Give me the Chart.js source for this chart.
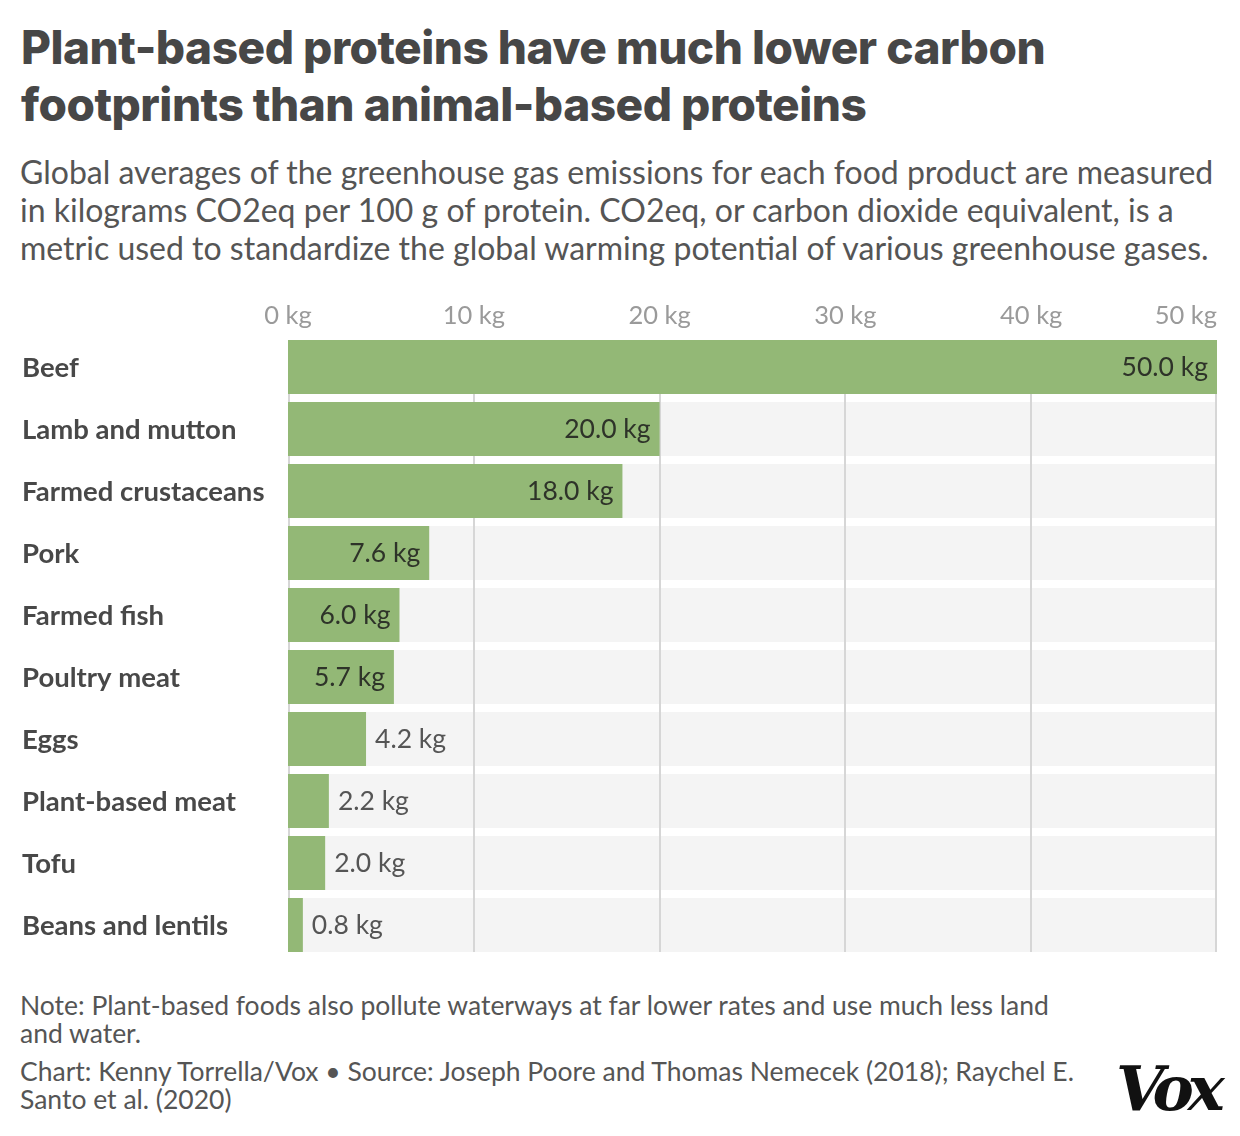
<!DOCTYPE html>
<html>
<head>
<meta charset="utf-8">
<script src="https://cdn.jsdelivr.net/npm/chart.js@4.4.1/dist/chart.umd.min.js"></script>
<style>
  body { margin:0; background:#fff; width:1240px; height:1136px; position:relative; overflow:hidden; }
  .t { position:absolute; left:21px; top:19px; width:1080px; font-family:Inter, sans-serif; font-weight:800;
       font-size:46px; line-height:57px; color:#474747; letter-spacing:-0.5px; }
  .s { position:absolute; left:20px; top:153px; width:1205px; font-family:Lato, sans-serif; font-weight:400;
       font-size:32px; line-height:38px; color:#555; }
  .f { position:absolute; left:20px; width:1066px; font-family:Lato, sans-serif; font-size:26.5px; line-height:28px; color:#555; }
  .vox { position:absolute; left:1116px; top:1052px; font-family:"DejaVu Serif", serif; font-style:italic;
         font-weight:700; font-size:62px; color:#111; letter-spacing:-6px; }
  #wrap { position:absolute; left:0; top:290px; width:1240px; height:670px; }
</style>
</head>
<body>
<div class="t">Plant-based proteins have much lower carbon footprints than animal-based proteins</div>
<div class="s">Global averages of the greenhouse gas emissions for each food product are measured in kilograms CO2eq per 100 g of protein. CO2eq, or carbon dioxide equivalent, is a metric used to standardize the global warming potential of various greenhouse gases.</div>
<div id="wrap"><canvas id="myChart"></canvas></div>
<div class="f" style="top:991px">Note: Plant-based foods also pollute waterways at far lower rates and use much less land and water.</div>
<div class="f" style="top:1057px">Chart: Kenny Torrella/Vox • Source: Joseph Poore and Thomas Nemecek (2018); Raychel E. Santo et al. (2020)</div>
<div class="vox">Vox</div>
<script>
var foods = ['Beef','Lamb and mutton','Farmed crustaceans','Pork','Farmed fish','Poultry meat','Eggs','Plant-based meat','Tofu','Beans and lentils'];
var emissions = [50.0, 20.0, 18.0, 7.6, 6.0, 5.7, 4.2, 2.2, 2.0, 0.8];
var xTicks = [0, 10, 20, 30, 40, 50];

// bands, grid, tick labels and category labels drawn around the bars
var decor = {
  id: 'decor',
  beforeDatasetsDraw: function(chart) {
    var ctx = chart.ctx, x = chart.scales.x;
    var meta = chart.getDatasetMeta(0);
    var left = x.getPixelForValue(0), right = x.getPixelForValue(50);
    ctx.save();
    var top = 0, bottom = 0;
    meta.data.forEach(function(bar, i) {
      var h = bar.height;
      ctx.fillStyle = '#f4f4f4';
      ctx.fillRect(left, bar.y - h/2, right - left, h);
      if (i == 0) top = bar.y - h/2;
      bottom = bar.y + h/2;
    });
    ctx.strokeStyle = '#d6d6d6';
    ctx.lineWidth = 2;
    xTicks.forEach(function(t) {
      var px = Math.round(x.getPixelForValue(t)) + (t == 0 ? 1 : (t == 50 ? -1 : 0));
      ctx.beginPath();
      ctx.moveTo(px, top);
      ctx.lineTo(px, bottom);
      ctx.stroke();
    });
    ctx.restore();
  },
  afterDatasetsDraw: function(chart) {
    var ctx = chart.ctx, x = chart.scales.x, y = chart.scales.y;
    var meta = chart.getDatasetMeta(0);
    ctx.save();
    ctx.textBaseline = 'middle';
    // x tick labels
    ctx.font = '25.5px Lato, sans-serif';
    ctx.fillStyle = '#9a9a9a';
    xTicks.forEach(function(t, i) {
      var px = x.getPixelForValue(t);
      ctx.textAlign = i == xTicks.length - 1 ? 'right' : 'center';
      ctx.fillText(t + ' kg', px, 26);
    });
    // category labels
    ctx.font = 'bold 27.5px Lato, sans-serif';
    ctx.fillStyle = '#484848';
    ctx.textAlign = 'left';
    foods.forEach(function(f, i) {
      ctx.fillText(f, 22, y.getPixelForValue(i) + 1);
    });
    // value labels
    ctx.font = '26.5px Lato, sans-serif';
    meta.data.forEach(function(bar, i) {
      var txt = emissions[i].toFixed(1) + ' kg';
      var w = ctx.measureText(txt).width;
      var barW = bar.x - bar.base;
      if (barW > w + 20) {
        ctx.fillStyle = '#2e3329';
        ctx.textAlign = 'right';
        ctx.fillText(txt, bar.x - 9, bar.y);
      } else {
        ctx.fillStyle = '#555';
        ctx.textAlign = 'left';
        ctx.fillText(txt, bar.x + 9, bar.y);
      }
    });
    ctx.restore();
  }
};

new Chart(document.getElementById('myChart'), {
  type: 'bar',
  data: {
    labels: foods,
    datasets: [{
      data: emissions,
      backgroundColor: '#93b876',
      borderWidth: 0,
      barPercentage: 0.871,
      categoryPercentage: 1.0
    }]
  },
  options: {
    indexAxis: 'y',
    responsive: true,
    maintainAspectRatio: false,
    animation: false,
    layout: { padding: { left: 288, right: 23, top: 46, bottom: 4 } },
    scales: {
      x: { display: false, min: 0, max: 50 },
      y: { display: false }
    },
    plugins: { legend: { display: false }, tooltip: { enabled: false } }
  },
  plugins: [decor]
});
</script>
</body>
</html>
